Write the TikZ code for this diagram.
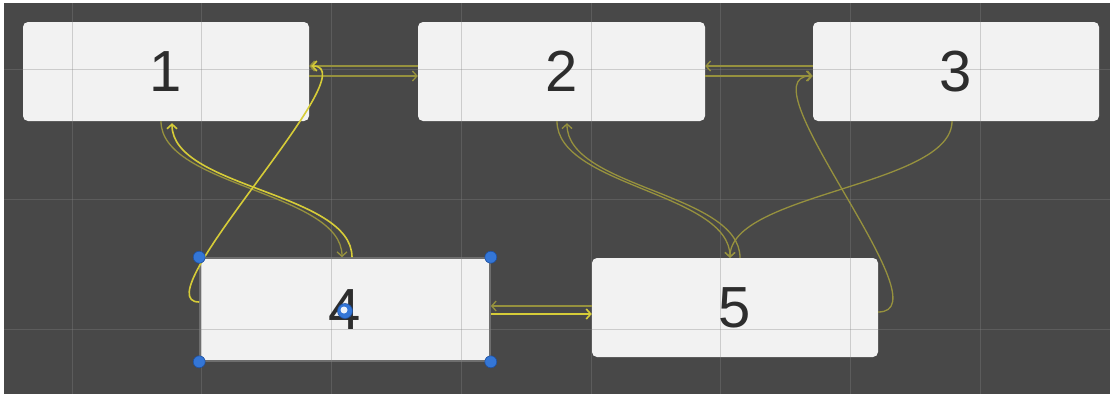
\documentclass[tikz,border=0pt]{standalone}
\usepackage{fontspec}
\setmainfont{Liberation Sans}
\usetikzlibrary{arrows.meta,calc}

\definecolor{canvas}{RGB}{72,72,72}
\definecolor{gridc}{RGB}{133,133,133}
\definecolor{boxfill}{RGB}{242,242,242}
\definecolor{digit}{RGB}{45,45,45}
\definecolor{linkdim}{RGB}{150,145,62}
\definecolor{linkhot}{RGB}{214,204,56}
\definecolor{handle}{RGB}{52,118,214}
\definecolor{handleedge}{RGB}{30,80,160}

\tikzset{
  statebox/.style={rectangle, rounded corners=5pt, fill=boxfill,
    minimum width=286pt, minimum height=99pt, inner sep=0pt},
  selbox/.style={statebox, minimum width=290pt, minimum height=103pt,
    draw={rgb,255:red,110;green,110;blue,110}, line width=1.6pt},
  lbl/.style={text=digit, font=\fontsize{58}{60}\selectfont, inner sep=0pt},
  gridline/.style={draw=gridc, draw opacity=0.34, line width=1pt},
  tip/.style={-{Straight Barb[length=4.5pt,width=10pt]}},
  linkd/.style={draw=linkdim, line width=1.3pt, tip},
  linkh/.style={draw=linkhot, line width=1.6pt, tip},
  dot/.style={circle, fill=handle, draw=handleedge, line width=0.6pt,
    minimum size=12pt, inner sep=0pt},
}

\begin{document}
\begin{tikzpicture}[x=1pt,y=-1pt]
  % page and canvas
  \useasboundingbox (0,0) rectangle (1110,394);
  \fill[white] (0,0) rectangle (1110,394);
  \fill[canvas] (4,3) rectangle (1110,394);

  % state boxes
  \node[statebox] (b1) at (166,71.5) {};
  \node[statebox, minimum width=287pt] (b2) at (561.5,71.5) {};
  \node[statebox] (b3) at (956,71.5) {};
  \node[statebox] (b5) at (735,307.5) {};
  \node[selbox] (b4) at (345,309.5) {};

  % editor grid, drawn over the boxes
  \foreach \gx in {72,201.75,331.5,461.25,591,720.75,850.5,980.25}
    \draw[gridline] (\gx,3) -- (\gx,394);
  \foreach \gy in {69,199,329}
    \draw[gridline] (4,\gy) -- (1110,\gy);

  % labels
  \node[lbl] (t1) at (b1) {1};
  \node[lbl] (t2) at (b2) {2};
  \node[lbl] (t3) at (b3) {3};
  \node[lbl] (t4) at (b4) {4};
  \node[lbl] (t5) at (b5) {5};

  % straight transitions between neighbours
  \draw[linkd] ($(b2.west)+(0,-5.5)$) -- ($(b1.east)+(0,-5.5)$);
  \draw[linkd] ($(b1.east)+(0,4.5)$) -- ($(b2.west)+(0,4.5)$);
  \draw[linkd] ($(b3.west)+(0,-5.5)$) -- ($(b2.east)+(0,-5.5)$);
  \draw[linkd] ($(b2.east)+(0,4.5)$) -- ($(b3.west)+(0,4.5)$);
  \draw[linkd] ($(b5.west)+(0,-1.5)$) -- ($(b4.east)+(0,-3.5)$);
  \draw[linkh] ($(b4.east)+(0,4.5)$) -- ($(b5.west)+(0,6.5)$);

  % curved transitions
  \draw[linkd] ($(b1.south)+(-5,0)$) .. controls +(0,65) and +(0,-65) .. ($(b4.north)+(-3,0)$);
  \draw[linkh] ($(b4.north)+(7,0)$) .. controls +(0,-65) and +(0,65) .. ($(b1.south)+(6,2)$);
  \draw[linkh] ($(b4.west)+(0,-7.5)$) .. controls +(-60,0) and +(60,0) .. ($(b1.east)+(2,-5.5)$);

  \draw[linkd] ($(b2.south)+(-4.5,0)$) .. controls +(0,65) and +(0,-65) .. ($(b5.north)+(-5,0)$);
  \draw[linkd] ($(b5.north)+(5,0)$) .. controls +(0,-65) and +(0,65) .. ($(b2.south)+(5.5,2)$);
  \draw[linkd] ($(b3.south)+(-4,0)$) .. controls +(0,65) and +(0,-65) .. ($(b5.north)+(-5,0)$);
  \draw[linkd] ($(b5.east)+(0,4.5)$) .. controls +(70,0) and +(-70,0) .. ($(b3.west)+(-1,4.5)$);

  % selection handles on box 4
  \node[dot] (h1) at (b4.north west) {};
  \node[dot] (h2) at (b4.north east) {};
  \node[dot] (h3) at (b4.south west) {};
  \node[dot] (h4) at (b4.south east) {};
  \node[dot, minimum size=15pt] (hc) at ($(b4.center)+(0,1.5)$) {};
  \fill[white, opacity=0.9] ($(hc.center)+(-1,-1)$) circle (3.5pt);
\end{tikzpicture}
\end{document}
